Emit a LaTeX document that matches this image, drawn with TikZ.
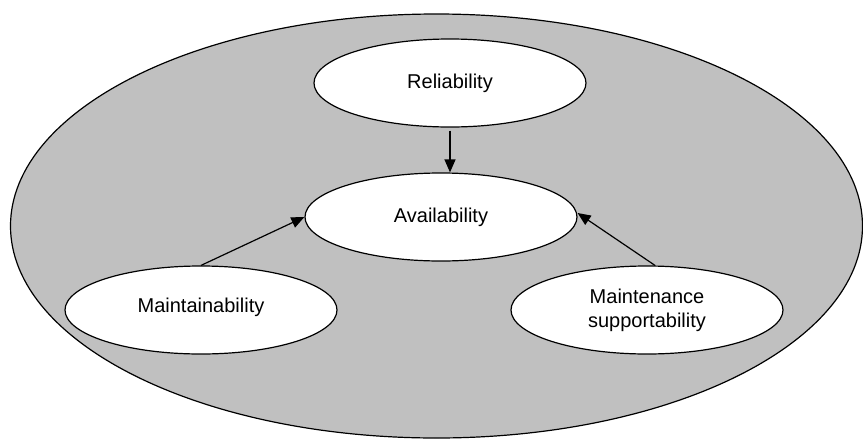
\documentclass[tikz,border=0pt]{standalone}
\usepackage{fontspec}
\setmainfont{Liberation Sans}
\usetikzlibrary{shapes.geometric,arrows.meta}
\definecolor{sysgray}{HTML}{C0C0C0}
\tikzset{
  sysbox/.style={ellipse, draw, line width=1.2pt, fill=sysgray, inner sep=0pt,
    minimum width=852pt, minimum height=424pt},
  attr/.style={ellipse, draw, line width=1.2pt, fill=white, inner sep=0pt,
    minimum width=272pt, minimum height=88pt, align=center,
    font=\fontsize{20}{24}\selectfont},
  link/.style={line width=1.2pt, -{Triangle[length=13pt,width=11pt]}}
}
\begin{document}
\begin{tikzpicture}[x=1pt,y=-1pt]
\useasboundingbox (0,0) rectangle (863,440);
\node[sysbox] (sys) at (436.5,226) {};
\node[attr] (R) at (450,83) {Reliability};
\node[attr] (A) at (441,217) {Availability};
\node[attr] (M) at (201,310) {\raisebox{10pt}{Maintainability}};
\node[attr] (S) at (647,310) {Maintenance\\supportability};
\draw[link] ([yshift=-3pt]R.south) -- (R.south |- A.north);
\draw[link] (M.north) -- (A.west);
\draw[link] ([xshift=8pt]S.north) -- ([yshift=4pt]A.east);
\end{tikzpicture}
\end{document}
